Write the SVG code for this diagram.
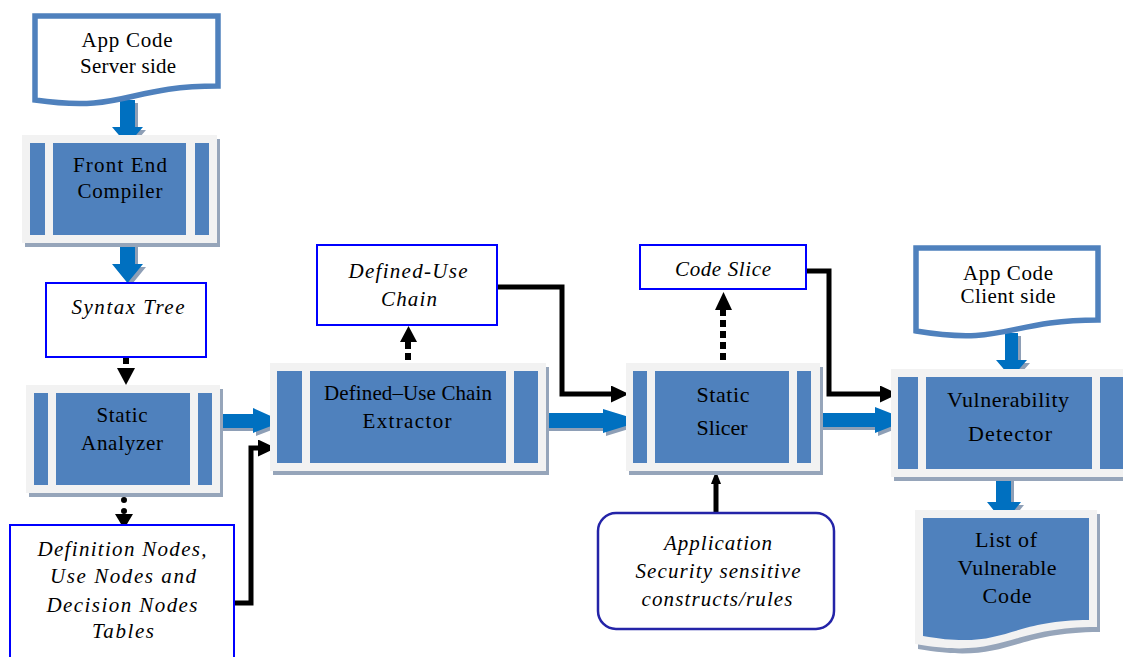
<svg xmlns="http://www.w3.org/2000/svg" width="1123" height="657" viewBox="0 0 1123 657">
<defs>
<style>
.sh{fill:#96A5BA}
.out{fill:#F2F2F2}
.bar{fill:#4F81BD}
.doc{fill:#FFFFFF;stroke:#4F81BD;stroke-width:5.5}
.box{fill:#FFFFFF;stroke:#0000FF;stroke-width:2}
.rbox{fill:#FFFFFF;stroke:#2424A8;stroke-width:2.5}
.ba{fill:#0070C0}
.bs{fill:#8E9FB6}
.ln{fill:none;stroke:#000;stroke-width:5}
.dash{fill:none;stroke:#000;stroke-width:6;stroke-dasharray:7 4}
.dot{fill:none;stroke:#000;stroke-width:6;stroke-linecap:round;stroke-dasharray:0 11}
.hd{fill:#000}
.t{font-family:"Liberation Serif","Times New Roman",serif;font-size:21px;fill:#000;text-anchor:middle}
.i{font-style:italic}
.l{font-size:22px}
</style>
<marker id="ah" markerUnits="userSpaceOnUse" markerWidth="18" markerHeight="18" refX="0" refY="8.5" orient="auto">
<path d="M0,0 L18,8.5 L0,17 Z" fill="#000"/>
</marker>
</defs>

<g id="connectors">
<polygon class="bs" points="123,103 138,103 138,130 146,130 130.5,148 115,130 123,130"/>
<polygon class="ba" points="120,100 135,100 135,127 143,127 127.5,145 112,127 120,127"/>
<polygon class="bs" points="123,246 138,246 138,267 146,267 130.5,286 115,267 123,267"/>
<polygon class="ba" points="120,243 135,243 135,264 143,264 127.5,283 112,264 120,264"/>
<polygon class="bs" points="1008,336 1021,336 1021,363 1030,363 1014,381 999,363 1008,363"/>
<polygon class="ba" points="1005,333 1018,333 1018,360 1027,360 1011.5,378 996,360 1005,360"/>
<polygon class="bs" points="999,480 1014,480 1014,505 1024,505 1007,526 990,505 999,505"/>
<polygon class="ba" points="996,477 1011,477 1011,502 1021,502 1004,523 987,502 996,502"/>
<polygon class="bs" points="223,417 256,417 256,411 286,424.5 256,436 256,431 223,431"/>
<polygon class="ba" points="220,414 253,414 253,408 283,421.5 253,433 253,428 220,428"/>
<polygon class="bs" points="549,416 606,416 606,412 645,424 606,436 606,431 549,431"/>
<polygon class="ba" points="546,413 603,413 603,409 642,421 603,433 603,428 546,428"/>
<polygon class="bs" points="817,416 878,416 878,410 911,423 878,436 878,430 817,430"/>
<polygon class="ba" points="814,413 875,413 875,407 908,420 875,433 875,427 814,427"/>

<path class="ln" d="M234,603 H251 V448 H258" marker-end="url(#ah)"/>
<path class="ln" d="M497,287 H562 V394 H611" marker-end="url(#ah)"/>
<path class="ln" d="M806,271 H829 V394 H880" marker-end="url(#ah)"/>
<path class="ln" d="M716,513 V482"/>
<path class="hd" d="M711,484 L716,471 L721,484 Z"/>

<path class="dash" d="M126,357 V368"/>
<path class="hd" d="M117,368 L135,368 L126,385 Z"/>
<path class="dot" d="M124,489 V512"/>
<path class="hd" d="M115,514 L133,514 L124,529 Z"/>
<path class="dash" d="M408,371 V342"/>
<path class="hd" d="M400,342 L417,342 L408.5,326 Z"/>
<path class="dash" d="M723,371 V310"/>
<path class="hd" d="M715,310 L732,310 L723.5,292 Z"/>
</g>

<g id="app-code-server">
<path class="doc" d="M35,16 H218 V86 C126,86 126,113 35,100 Z"/>
<text class="t" x="127" y="47" textLength="91" lengthAdjust="spacing">App Code</text>
<text class="t" x="128" y="73" textLength="96" lengthAdjust="spacing">Server side</text>
</g>

<g id="front-end-compiler">
<rect class="sh" x="25" y="139" width="195" height="108"/>
<rect class="out" x="22" y="135" width="195" height="108"/>
<rect class="bar" x="30" y="143" width="15" height="92"/>
<rect class="bar" x="53" y="143" width="133" height="92"/>
<rect class="bar" x="195" y="143" width="14" height="92"/>
<text class="t" x="120" y="172" textLength="94" lengthAdjust="spacing">Front End</text>
<text class="t" x="120" y="198" textLength="85" lengthAdjust="spacing">Compiler</text>
</g>

<g id="syntax-tree">
<rect class="box" x="46" y="283" width="160" height="74"/>
<text class="t i" x="128" y="314" textLength="113" lengthAdjust="spacing">Syntax Tree</text>
</g>

<g id="static-analyzer">
<rect class="sh" x="29" y="389" width="194" height="108"/>
<rect class="out" x="26" y="385" width="194" height="108"/>
<rect class="bar" x="34" y="393" width="14" height="92"/>
<rect class="bar" x="56" y="393" width="134" height="92"/>
<rect class="bar" x="198" y="393" width="14" height="92"/>
<text class="t" x="122" y="422" textLength="51" lengthAdjust="spacing">Static</text>
<text class="t" x="122" y="450" textLength="82" lengthAdjust="spacing">Analyzer</text>
</g>

<g id="definition-tables">
<rect class="box" x="10" y="525" width="224" height="140"/>
<text class="t i" x="122" y="556" textLength="169" lengthAdjust="spacing">Definition Nodes,</text>
<text class="t i" x="123" y="583" textLength="146" lengthAdjust="spacing">Use Nodes and</text>
<text class="t i" x="122" y="612" textLength="151" lengthAdjust="spacing">Decision Nodes</text>
<text class="t i" x="123" y="638" textLength="62" lengthAdjust="spacing">Tables</text>
</g>

<g id="du-chain-extractor">
<rect class="sh" x="273" y="367" width="276" height="108"/>
<rect class="out" x="270" y="363" width="276" height="108"/>
<rect class="bar" x="277" y="371" width="25" height="92"/>
<rect class="bar" x="310" y="371" width="196" height="92"/>
<rect class="bar" x="514" y="371" width="24" height="92"/>
<text class="t" x="408" y="400" textLength="168" lengthAdjust="spacing">Defined–Use Chain</text>
<text class="t" x="407" y="428" textLength="89" lengthAdjust="spacing">Extractor</text>
</g>

<g id="defined-use-chain">
<rect class="box" x="317" y="245" width="180" height="80"/>
<text class="t i" x="408" y="278" textLength="119" lengthAdjust="spacing">Defined-Use</text>
<text class="t i" x="409" y="306" textLength="56" lengthAdjust="spacing">Chain</text>
</g>

<g id="static-slicer">
<rect class="sh" x="629" y="367" width="194" height="108"/>
<rect class="out" x="626" y="363" width="194" height="108"/>
<rect class="bar" x="633" y="371" width="14" height="92"/>
<rect class="bar" x="655" y="371" width="134" height="92"/>
<rect class="bar" x="797" y="371" width="14" height="92"/>
<text class="t l" x="723" y="402" textLength="53" lengthAdjust="spacing">Static</text>
<text class="t l" x="722" y="435" textLength="51" lengthAdjust="spacing">Slicer</text>
</g>

<g id="code-slice">
<rect class="box" x="640" y="245" width="166" height="44"/>
<text class="t i" x="723" y="276" textLength="96" lengthAdjust="spacing">Code Slice</text>
</g>

<g id="app-code-client">
<path class="doc" d="M916,248 H1098 V320 C1007,320 1007,346 916,331 Z"/>
<text class="t" x="1008" y="280" textLength="90" lengthAdjust="spacing">App Code</text>
<text class="t" x="1008" y="303" textLength="95" lengthAdjust="spacing">Client side</text>
</g>

<g id="vulnerability-detector">
<rect class="sh" x="894" y="373" width="250" height="108"/>
<rect class="out" x="891" y="369" width="250" height="108"/>
<rect class="bar" x="898" y="377" width="20" height="92"/>
<rect class="bar" x="926" y="377" width="166" height="92"/>
<rect class="bar" x="1100" y="377" width="40" height="92"/>
<text class="t l" x="1008" y="407" textLength="122" lengthAdjust="spacing">Vulnerability</text>
<text class="t l" x="1010" y="441" textLength="84" lengthAdjust="spacing">Detector</text>
</g>

<g id="application-rules">
<rect class="rbox" x="598" y="513" width="236" height="116" rx="18" ry="18"/>
<text class="t i" x="718" y="550" textLength="108" lengthAdjust="spacing">Application</text>
<text class="t i" x="718" y="578" textLength="165" lengthAdjust="spacing">Security sensitive</text>
<text class="t i" x="717" y="606" textLength="151" lengthAdjust="spacing">constructs/rules</text>
</g>

<g id="list-vulnerable-code">
<path class="sh" d="M918,514 H1100 V632 C1009,632 1009,665 918,649 Z"/>
<path class="out" d="M915,510 H1097 V627 C1006,627 1006,660 915,644 Z"/>
<path class="bar" d="M923,518 H1089 V620 C1006,620 1006,651 923,636 Z"/>
<text class="t l" x="1006" y="547" textLength="62" lengthAdjust="spacing">List of</text>
<text class="t l" x="1007" y="575" textLength="99" lengthAdjust="spacing">Vulnerable</text>
<text class="t l" x="1007" y="603" textLength="49" lengthAdjust="spacing">Code</text>
</g>
</svg>
